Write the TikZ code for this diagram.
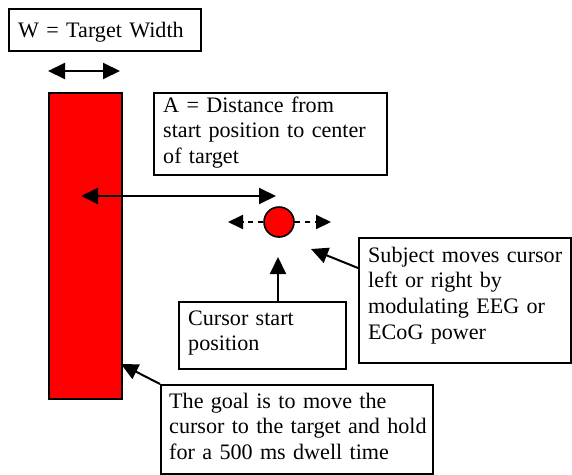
\documentclass[tikz,border=0pt]{standalone}
\usepackage{fontspec}
\setmainfont{Liberation Serif}
\usetikzlibrary{arrows.meta,calc}
\begin{document}
\begin{tikzpicture}[x=1pt,y=-1pt,
  box/.style={draw=black,line width=2pt,inner sep=0pt,anchor=north west},
  txt/.style={inner sep=0pt,anchor=base west,align=left,text width=400pt,
    font=\fontsize{22.1}{25.8}\selectfont},
  con/.style={line width=2pt,-{Triangle[length=17pt,width=16pt]}},
  dcon/.style={line width=2pt,{Triangle[length=17pt,width=16pt]}-{Triangle[length=17pt,width=16pt]}},
  dashcon/.style={line width=2pt,dash pattern=on 5pt off 5pt,-{Triangle[length=15pt,width=14pt]}}]
\useasboundingbox (0,0) rectangle (572,474);
% target bar
\node[box,fill=red,minimum width=73pt,minimum height=306pt,line width=1.6pt] (bar) at (48,92) {};
% boxes
\node[box,minimum width=192pt,minimum height=42pt] (wbox) at (8,8) {};
\node[box,minimum width=233pt,minimum height=82pt] (abox) at (153,92) {};
\node[box,minimum width=167pt,minimum height=67pt] (cbox) at (178,301) {};
\node[box,minimum width=212pt,minimum height=125pt] (sbox) at (358,237) {};
\node[box,minimum width=272pt,minimum height=89pt] (gbox) at (160,384) {};
% texts
\node[txt] (tw) at (18,37) {W = Target Width};
\node[txt] (ta) at (163,112) {A = Distance from\\start position to center\\of target};
\node[txt] (tc) at (188,325) {Cursor start\\position};
\node[txt] (ts) at (368,262) {Subject moves cursor\\left or right by\\modulating EEG or\\ECoG power};
\node[txt] (tg) at (169,408) {The goal is to move the\\cursor to the target and hold\\for a 500 ms dwell time};
% cursor
\node[circle,draw=black,fill=red,line width=1.6pt,minimum size=30pt,inner sep=0pt] (cur) at (279,222) {};
% coordinates
\coordinate (wl) at (48,71);
\coordinate (wr) at (120,71);
\coordinate (al) at (81,196);
\coordinate (ar) at (276,196);
\coordinate (dl) at (228,222);
\coordinate (dr) at (331,222);
\coordinate (ct) at (278,257);
\coordinate (st) at (311,249);
\coordinate (gt) at (121,364);
% connectors
\draw[dcon] (wl) -- (wr);
\draw[dcon] (al) -- (ar);
\draw[dashcon] (cur.west) -- (dl);
\draw[dashcon] (cur.east) -- (dr);
\draw[con] (cbox.north -| ct) -- (ct);
\draw[con] ($(sbox.north west)+(0,31)$) -- (st);
\draw[con] (gbox.north west) -- (gt);
\end{tikzpicture}
\end{document}
